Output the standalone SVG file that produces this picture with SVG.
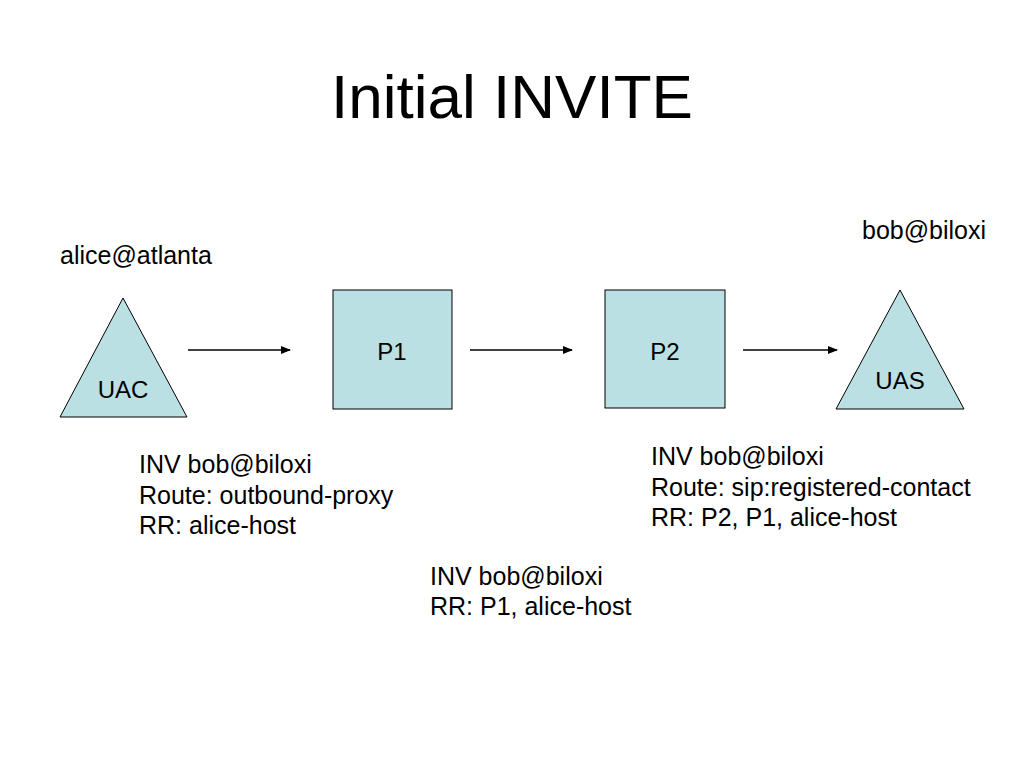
<svg xmlns="http://www.w3.org/2000/svg" width="1024" height="768" viewBox="0 0 1024 768">
<defs>
<style>
text{font-family:"Liberation Sans",Arial,sans-serif;fill:#000}
.t{font-size:25px}
.n{font-size:24px;text-anchor:middle}
.shape{fill:#bbe0e3;stroke:#000;stroke-width:1}
.c{stroke:#000;stroke-width:1.5;fill:none}
</style>
<marker id="ah" markerWidth="10" markerHeight="8" refX="9" refY="4" orient="auto" markerUnits="userSpaceOnUse">
<path d="M0,0 L10,4 L0,8 Z" fill="#000"/>
</marker>
</defs>
<rect width="1024" height="768" fill="#fff"/>
<text x="512" y="118" font-size="62" text-anchor="middle">Initial INVITE</text>
<g id="uac">
<polygon class="shape" points="123,298 187,417 60,417"/>
<text class="n" x="123" y="398">UAC</text>
</g>
<g id="p1">
<rect class="shape" x="333" y="290" width="119" height="119"/>
<text class="n" x="392" y="360">P1</text>
</g>
<g id="p2">
<rect class="shape" x="605" y="290" width="120" height="118"/>
<text class="n" x="665" y="360">P2</text>
</g>
<g id="uas">
<polygon class="shape" points="900,290 964,409 836,409"/>
<text class="n" x="900" y="389">UAS</text>
</g>
<g id="connectors">
<line class="c" x1="188" y1="350" x2="290" y2="350" marker-end="url(#ah)"/>
<line class="c" x1="470" y1="350" x2="572" y2="350" marker-end="url(#ah)"/>
<line class="c" x1="743" y1="350" x2="837" y2="350" marker-end="url(#ah)"/>
</g>
<text class="t" x="60" y="264">alice@atlanta</text>
<text class="t" x="862" y="239">bob@biloxi</text>
<text class="t" x="139" y="473">INV bob@biloxi</text>
<text class="t" x="139" y="504">Route: outbound-proxy</text>
<text class="t" x="139" y="534">RR: alice-host</text>
<text class="t" x="651" y="465">INV bob@biloxi</text>
<text class="t" x="651" y="496">Route: sip:registered-contact</text>
<text class="t" x="651" y="526">RR: P2, P1, alice-host</text>
<text class="t" x="430" y="585">INV bob@biloxi</text>
<text class="t" x="430" y="615">RR: P1, alice-host</text>
</svg>
